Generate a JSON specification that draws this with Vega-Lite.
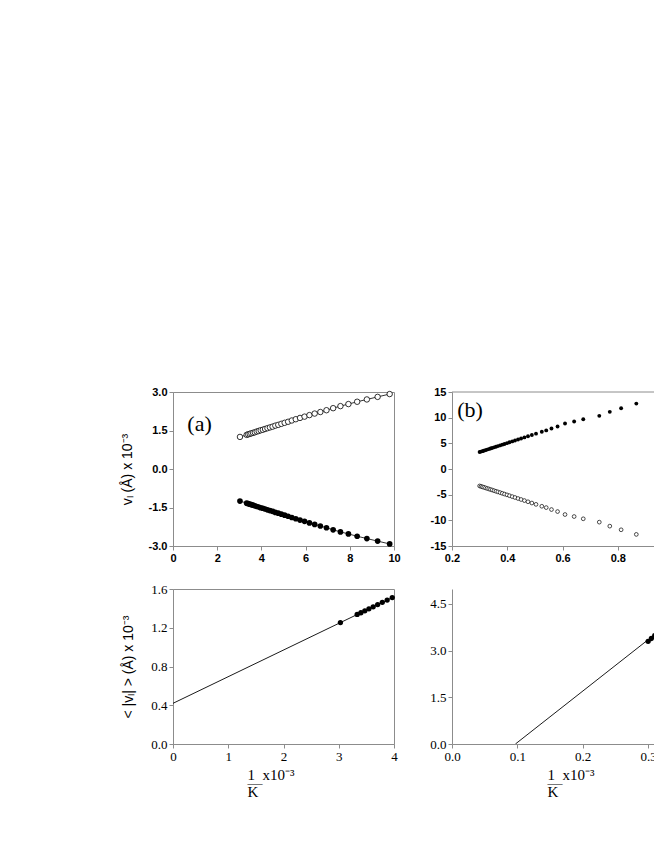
{
  "$schema": "https://vega.github.io/schema/vega-lite/v6.json",
  "background": "white",
  "padding": {"left": 119, "top": 385, "right": 0, "bottom": 0},
  "bounds": "flush",
  "columns": 2,
  "spacing": {"row": 43, "column": 58},
  "datasets": {
    "a": [
      {"x": 3.03, "up": 1.25, "down": -1.25},
      {"x": 3.333, "up": 1.33, "down": -1.33},
      {"x": 3.401, "up": 1.35, "down": -1.35},
      {"x": 3.472, "up": 1.37, "down": -1.37},
      {"x": 3.546, "up": 1.39, "down": -1.39},
      {"x": 3.623, "up": 1.41, "down": -1.41},
      {"x": 3.704, "up": 1.43, "down": -1.43},
      {"x": 3.788, "up": 1.46, "down": -1.46},
      {"x": 3.876, "up": 1.48, "down": -1.48},
      {"x": 3.968, "up": 1.51, "down": -1.51},
      {"x": 4.065, "up": 1.53, "down": -1.53},
      {"x": 4.167, "up": 1.56, "down": -1.56},
      {"x": 4.274, "up": 1.59, "down": -1.59},
      {"x": 4.386, "up": 1.62, "down": -1.62},
      {"x": 4.505, "up": 1.65, "down": -1.65},
      {"x": 4.63, "up": 1.69, "down": -1.69},
      {"x": 4.762, "up": 1.72, "down": -1.72},
      {"x": 4.902, "up": 1.76, "down": -1.76},
      {"x": 5.051, "up": 1.8, "down": -1.8},
      {"x": 5.208, "up": 1.84, "down": -1.84},
      {"x": 5.376, "up": 1.89, "down": -1.89},
      {"x": 5.556, "up": 1.94, "down": -1.94},
      {"x": 5.747, "up": 1.99, "down": -1.99},
      {"x": 5.952, "up": 2.04, "down": -2.04},
      {"x": 6.173, "up": 2.1, "down": -2.1},
      {"x": 6.41, "up": 2.16, "down": -2.16},
      {"x": 6.667, "up": 2.22, "down": -2.22},
      {"x": 6.944, "up": 2.29, "down": -2.29},
      {"x": 7.246, "up": 2.37, "down": -2.37},
      {"x": 7.576, "up": 2.45, "down": -2.45},
      {"x": 7.937, "up": 2.53, "down": -2.53},
      {"x": 8.333, "up": 2.62, "down": -2.62},
      {"x": 8.772, "up": 2.71, "down": -2.71},
      {"x": 9.259, "up": 2.81, "down": -2.81},
      {"x": 9.804, "up": 2.92, "down": -2.92}
    ],
    "b": [
      {"x": 0.3, "up": 3.3, "down": -3.3},
      {"x": 0.305, "up": 3.39, "down": -3.39},
      {"x": 0.31, "up": 3.48, "down": -3.48},
      {"x": 0.315, "up": 3.56, "down": -3.56},
      {"x": 0.321, "up": 3.67, "down": -3.67},
      {"x": 0.327, "up": 3.78, "down": -3.78},
      {"x": 0.333, "up": 3.88, "down": -3.88},
      {"x": 0.339, "up": 3.99, "down": -3.99},
      {"x": 0.345, "up": 4.09, "down": -4.09},
      {"x": 0.352, "up": 4.22, "down": -4.22},
      {"x": 0.359, "up": 4.34, "down": -4.34},
      {"x": 0.366, "up": 4.46, "down": -4.46},
      {"x": 0.374, "up": 4.6, "down": -4.6},
      {"x": 0.382, "up": 4.74, "down": -4.74},
      {"x": 0.39, "up": 4.88, "down": -4.88},
      {"x": 0.399, "up": 5.04, "down": -5.04},
      {"x": 0.408, "up": 5.2, "down": -5.2},
      {"x": 0.418, "up": 5.38, "down": -5.38},
      {"x": 0.428, "up": 5.55, "down": -5.55},
      {"x": 0.439, "up": 5.75, "down": -5.75},
      {"x": 0.45, "up": 5.94, "down": -5.94},
      {"x": 0.462, "up": 6.15, "down": -6.15},
      {"x": 0.475, "up": 6.38, "down": -6.38},
      {"x": 0.489, "up": 6.63, "down": -6.63},
      {"x": 0.504, "up": 6.89, "down": -6.89},
      {"x": 0.525, "up": 7.26, "down": -7.26},
      {"x": 0.541, "up": 7.52, "down": -7.52},
      {"x": 0.56, "up": 7.9, "down": -7.9},
      {"x": 0.582, "up": 8.29, "down": -8.29},
      {"x": 0.609, "up": 8.87, "down": -8.87},
      {"x": 0.642, "up": 9.26, "down": -9.26},
      {"x": 0.675, "up": 9.7, "down": -9.7},
      {"x": 0.733, "up": 10.35, "down": -10.35},
      {"x": 0.771, "up": 11.13, "down": -11.13},
      {"x": 0.812, "up": 11.84, "down": -11.84},
      {"x": 0.867, "up": 12.74, "down": -12.74}
    ],
    "c": [
      {"x": 3.03, "y": 1.253},
      {"x": 3.333, "y": 1.337},
      {"x": 3.401, "y": 1.355},
      {"x": 3.472, "y": 1.375},
      {"x": 3.546, "y": 1.395},
      {"x": 3.623, "y": 1.416},
      {"x": 3.704, "y": 1.439},
      {"x": 3.788, "y": 1.462},
      {"x": 3.876, "y": 1.486},
      {"x": 3.968, "y": 1.511}
    ],
    "cfit": [{"x": 0, "y": 0.42}, {"x": 4, "y": 1.52}],
    "d": [
      {"x": 0.3, "y": 3.3},
      {"x": 0.305, "y": 3.39},
      {"x": 0.31, "y": 3.48},
      {"x": 0.315, "y": 3.56},
      {"x": 0.321, "y": 3.67},
      {"x": 0.327, "y": 3.78}
    ],
    "dfit": [{"x": 0.097, "y": 0}, {"x": 0.34, "y": 4.01}]
  },
  "concat": [
    {
      "width": 221,
      "height": 154,
      "layer": [
        {
          "data": {"name": "a"},
          "transform": [{"fold": ["up", "down"], "as": ["s", "y"]}],
          "encoding": {
            "x": {"field": "x", "type": "quantitative", "scale": {"domain": [0, 10], "nice": false},
                  "axis": {"values": [0, 2, 4, 6, 8, 10], "tickCount": 20, "format": "d", "title": null, "labelFont": "Liberation Sans", "labelFontSize": 11, "labelFontWeight": "bold", "labelFlush": false}},
            "y": {"field": "y", "type": "quantitative", "scale": {"domain": [-3, 3], "nice": false},
                  "axis": {"values": [-3, -1.5, 0, 1.5, 3], "tickCount": 20, "labelExpr": "replace(format(datum.value, '.1f'), '\u2212', '-')", "labelOverlap": false, "title": "v\u2097 (\u00c5) x 10\u207b\u00b3", "titleFont": "Liberation Sans", "titleFontSize": 14, "titleFontWeight": "normal", "titlePadding": 14, "labelFont": "Liberation Sans", "labelFontSize": 11, "labelFontWeight": "bold"}}
          },
          "layer": [
            {"mark": {"type": "line", "color": "black", "strokeWidth": 0.8}, "encoding": {"detail": {"field": "s"}}},
            {"transform": [{"filter": "datum.s === 'up'"}], "mark": {"type": "circle", "size": 30, "fill": "white", "stroke": "black", "strokeWidth": 0.8, "opacity": 1}},
            {"transform": [{"filter": "datum.s === 'down'"}], "mark": {"type": "circle", "size": 32, "color": "black", "opacity": 1}}
          ]
        },
        {
          "data": {"values": [{}]},
          "mark": {"type": "text", "font": "Liberation Serif", "fontSize": 22, "color": "black"},
          "encoding": {"x": {"datum": 1.2, "type": "quantitative"}, "y": {"datum": 1.75, "type": "quantitative"}, "text": {"value": "(a)"}}
        }
      ]
    },
    {
      "width": 202,
      "height": 154,
      "view": {"stroke": null},
      "layer": [
        {
          "data": {"name": "b"},
          "transform": [{"fold": ["up", "down"], "as": ["s", "y"]}],
          "encoding": {
            "x": {"field": "x", "type": "quantitative", "scale": {"domain": [0.2, 0.931], "nice": false},
                  "axis": {"values": [0.2, 0.4, 0.6, 0.8], "tickCount": 20, "format": ".1f", "title": null, "labelFont": "Liberation Sans", "labelFontSize": 11, "labelFontWeight": "bold", "labelFlush": false}},
            "y": {"field": "y", "type": "quantitative", "scale": {"domain": [-15, 15], "nice": false},
                  "axis": {"values": [-15, -10, -5, 0, 5, 10, 15], "tickCount": 20, "labelExpr": "replace(format(datum.value, 'd'), '\u2212', '-')", "labelOverlap": false, "title": null, "labelFont": "Liberation Sans", "labelFontSize": 11, "labelFontWeight": "bold"}}
          },
          "layer": [
            {"transform": [{"filter": "datum.s === 'up'"}], "mark": {"type": "circle", "size": 15, "color": "black", "opacity": 1, "clip": true}},
            {"transform": [{"filter": "datum.s === 'down'"}], "mark": {"type": "circle", "size": 14, "fill": "white", "stroke": "black", "strokeWidth": 0.7, "opacity": 1, "clip": true}}
          ]
        },
        {
          "data": {"values": [{}]},
          "mark": {"type": "rule", "color": "#8c8c8c", "strokeWidth": 1},
          "encoding": {"y": {"datum": 15, "type": "quantitative"}}
        },
        {
          "data": {"values": [{}]},
          "mark": {"type": "text", "font": "Liberation Serif", "fontSize": 22, "color": "black"},
          "encoding": {"x": {"datum": 0.265, "type": "quantitative"}, "y": {"datum": 11.5, "type": "quantitative"}, "text": {"value": "(b)"}}
        }
      ]
    },
    {
      "width": 221,
      "height": 155,
      "encoding": {
        "x": {"field": "x", "type": "quantitative", "scale": {"domain": [0, 4], "nice": false},
              "axis": {"values": [0, 1, 2, 3, 4], "tickCount": 20, "format": "d", "title": ["\u00a01\u00a0\u00a0x10\u207b\u00b3", "\u2014", "\u2009K"], "titleFont": "Liberation Serif", "titleFontSize": 15, "titleFontWeight": "normal", "titleAlign": "left", "titleX": 74, "titleLineHeight": 8.5, "titlePadding": 4, "labelFont": "Liberation Serif", "labelFontSize": 13, "labelFlush": false}},
        "y": {"field": "y", "type": "quantitative", "scale": {"domain": [0, 1.6], "nice": false},
              "axis": {"values": [0, 0.4, 0.8, 1.2, 1.6], "tickCount": 20, "format": ".1f", "title": "< |v\u2097| > (\u00c5) x 10\u207b\u00b3", "titleFont": "Liberation Sans", "titleFontSize": 14, "titleFontWeight": "normal", "titlePadding": 15, "labelFont": "Liberation Serif", "labelFontSize": 13}}
      },
      "layer": [
        {"data": {"name": "cfit"}, "mark": {"type": "line", "color": "black", "strokeWidth": 0.9}},
        {"data": {"name": "c"}, "mark": {"type": "circle", "size": 28, "color": "black", "opacity": 1}},
        {
          "data": {"values": [{}]},
          "mark": {"type": "text", "font": "Liberation Serif", "fontSize": 22, "color": "black"},
          "encoding": {"x": {"datum": 0.49, "type": "quantitative"}, "y": {"datum": 1.4, "type": "quantitative"}, "text": {"value": "(c)"}}
        }
      ]
    },
    {
      "width": 202,
      "height": 155,
      "view": {"stroke": null},
      "encoding": {
        "x": {"field": "x", "type": "quantitative", "scale": {"domain": [0, 0.309], "nice": false},
              "axis": {"values": [0, 0.1, 0.2, 0.3], "tickCount": 20, "format": ".1f", "title": ["\u00a01\u00a0\u00a0x10\u207b\u00b3", "\u2014", "\u2009K"], "titleFont": "Liberation Serif", "titleFontSize": 15, "titleFontWeight": "normal", "titleAlign": "left", "titleX": 95, "titleLineHeight": 8.5, "titlePadding": 4, "labelFont": "Liberation Serif", "labelFontSize": 13, "labelFlush": false}},
        "y": {"field": "y", "type": "quantitative", "scale": {"domain": [0, 4.98], "nice": false},
              "axis": {"values": [0, 1.5, 3, 4.5], "tickCount": 20, "format": ".1f", "title": null, "labelFont": "Liberation Serif", "labelFontSize": 13}}
      },
      "layer": [
        {"data": {"name": "dfit"}, "mark": {"type": "line", "color": "black", "strokeWidth": 0.9, "clip": true}},
        {"data": {"name": "d"}, "mark": {"type": "circle", "size": 28, "color": "black", "opacity": 1, "clip": true}},
        {
          "data": {"values": [{}]},
          "mark": {"type": "rule", "color": "#8c8c8c", "strokeWidth": 1},
          "encoding": {"x": null, "y": {"datum": 4.98, "type": "quantitative"}}
        },
        {
          "data": {"values": [{}]},
          "mark": {"type": "text", "font": "Liberation Serif", "fontSize": 22, "color": "black"},
          "encoding": {"x": {"datum": 0.037, "type": "quantitative"}, "y": {"datum": 4.37, "type": "quantitative"}, "text": {"value": "(d)"}}
        }
      ]
    }
  ],
  "config": {
    "view": {"stroke": "#8c8c8c", "strokeWidth": 1},
    "axis": {"grid": false, "domainColor": "#8c8c8c", "tickColor": "#8c8c8c", "tickSize": 4, "labelPadding": 2, "labelColor": "black", "titleColor": "black"}
  }
}
